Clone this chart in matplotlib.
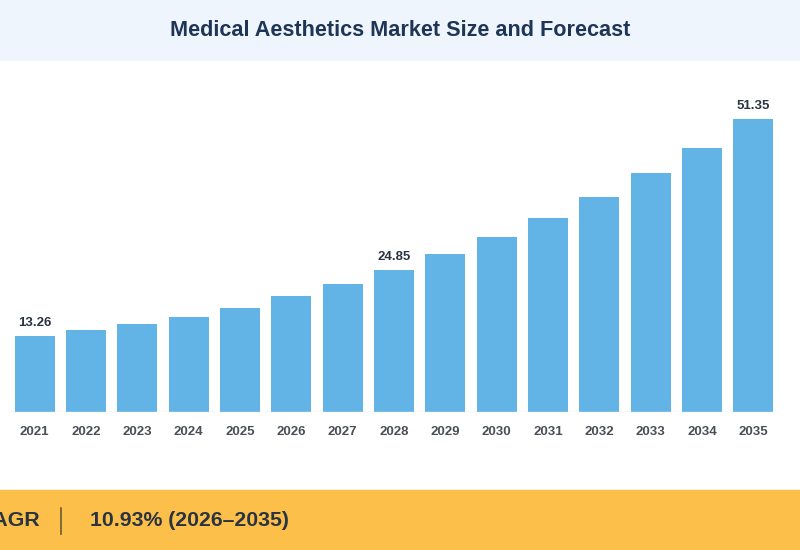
import matplotlib
matplotlib.use("Agg")
import matplotlib.pyplot as plt
from matplotlib.patches import Rectangle

years = ["2021","2022","2023","2024","2025","2026","2027","2028","2029","2030","2031","2032","2033","2034","2035"]
values = [13.26,14.4,15.4,16.6,18.2,20.3,22.4,24.85,27.7,30.7,34.0,37.7,41.9,46.3,51.35]
labeled = {"2021","2028","2035"}

W, H = 800, 550
fig = plt.figure(figsize=(8, 5.5), dpi=100)
fig.patch.set_facecolor("white")
fig.patches.append(Rectangle((0, 1-60/H), 1, 60/H, transform=fig.transFigure, color="#eef5fd", zorder=0))
fig.text(0.5, 1-31/H, "Medical Aesthetics Market Size and Forecast", ha="center", va="center",
         fontsize=15.6, fontweight="bold", color="#1f3556", family="Liberation Sans")
fig.patches.append(Rectangle((0, 0), 1, 60/H, transform=fig.transFigure, color="#fcc04a", zorder=0))
fig.text(40/W, 29/H, "CAGR", ha="right", va="center", fontsize=15.3, fontweight="bold", color="#2a3342", family="Liberation Sans")
fig.lines.append(plt.Line2D([61/W, 61/W], [16/H, 42/H], transform=fig.transFigure, color="#6b5a35", lw=1.2))
fig.text(90/W, 29/H, "10.93% (2026–2035)", ha="left", va="center", fontsize=15.3, fontweight="bold", color="#2a3342", family="Liberation Sans")

ax = fig.add_axes([9/W, (H-412)/H, 770/W, 330/H])
x = list(range(len(years)))
bars = ax.bar(x, values, width=0.78, color="#62b4e6", zorder=2, linewidth=0)
ax.set_xlim(-0.5, len(years)-0.5)
ax.set_ylim(0, 51.35*330/293)
for i, (y, v) in enumerate(zip(years, values)):
    if y in labeled:
        ax.text(i, v + 1.3, f"{v:.2f}", ha="center", va="bottom", fontsize=9.5, fontweight="bold", color="#2a3342", family="Liberation Sans")
ax.set_xticks(x)
ax.set_xticklabels(years, fontsize=9.5, fontweight="bold", color="#4a4f57", family="Liberation Sans")
ax.tick_params(axis="x", length=0, pad=10)
ax.set_yticks([])
for s in ax.spines.values():
    s.set_visible(False)
ax.axhline(0, color="#dddddd", lw=1, zorder=3)
ax.set_facecolor("none")
fig.savefig("out.png", dpi=100)
